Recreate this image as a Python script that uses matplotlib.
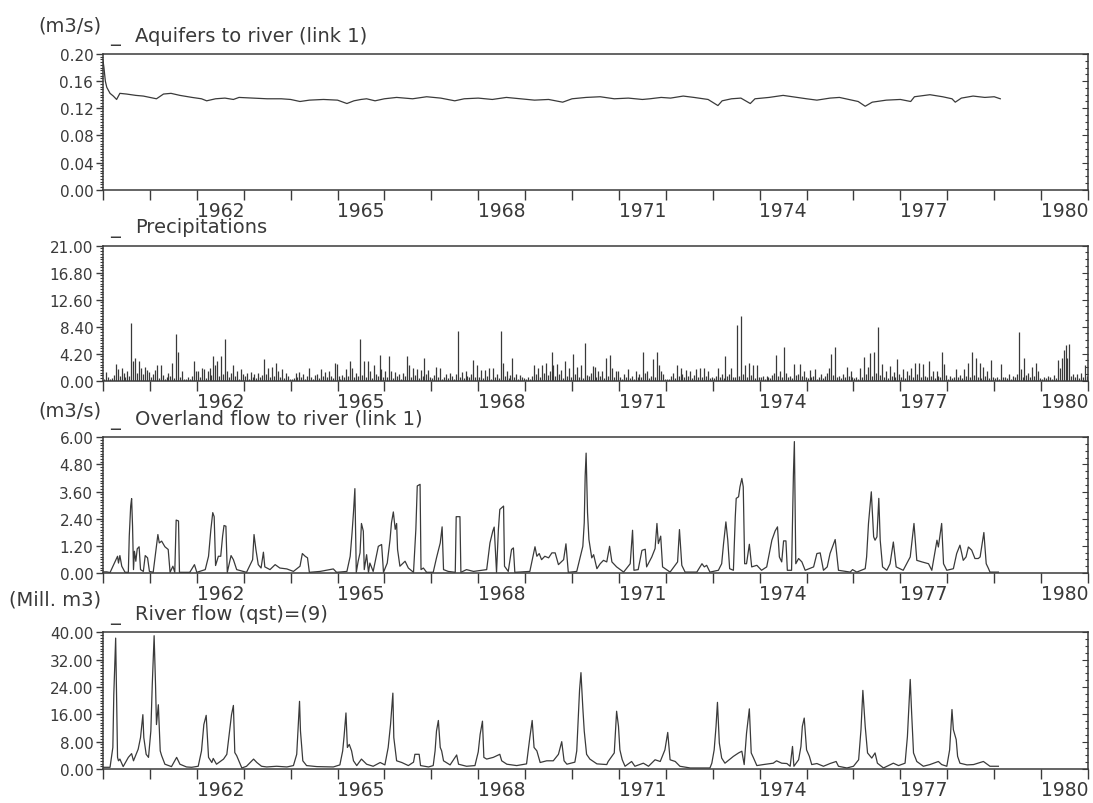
import matplotlib.pyplot as plt
from matplotlib.ticker import MultipleLocator, FixedLocator, NullFormatter, FormatStrFormatter

# ---- data ----
# Aquifers to river (link 1), m3/s
aq_t = [1960.00, 1960.02, 1960.05, 1960.08, 1960.15, 1960.22, 1960.29, 1960.36, 1960.50, 1960.70,
        1960.86, 1961.00, 1961.14, 1961.29, 1961.45, 1961.64, 1961.90, 1962.10, 1962.21, 1962.40,
        1962.60, 1962.78, 1962.90, 1963.20, 1963.50, 1963.80, 1964.00, 1964.20, 1964.40, 1964.70,
        1965.00, 1965.20, 1965.35, 1965.50, 1965.62, 1965.80, 1966.00, 1966.26, 1966.60, 1966.90,
        1967.20, 1967.50, 1967.70, 1968.00, 1968.30, 1968.60, 1968.90, 1969.20, 1969.50, 1969.80,
        1970.00, 1970.30, 1970.60, 1970.90, 1971.20, 1971.50, 1971.66, 1971.90, 1972.10, 1972.37,
        1972.60, 1972.90, 1973.11, 1973.20, 1973.40, 1973.60, 1973.80, 1973.90, 1974.20, 1974.50,
        1974.80, 1975.00, 1975.22, 1975.50, 1975.70, 1975.90, 1976.10, 1976.25, 1976.40, 1976.70,
        1977.00, 1977.22, 1977.30, 1977.63, 1977.90, 1978.10, 1978.17, 1978.30, 1978.55, 1978.80,
        1979.00, 1979.13]
aq_v = [0.190, 0.180, 0.160, 0.151, 0.142, 0.138, 0.133, 0.142, 0.141, 0.139,
        0.138, 0.136, 0.134, 0.141, 0.142, 0.139, 0.136, 0.134, 0.131, 0.134,
        0.135, 0.133, 0.136, 0.135, 0.134, 0.134, 0.133, 0.130, 0.132, 0.133,
        0.132, 0.127, 0.131, 0.133, 0.134, 0.131, 0.134, 0.136, 0.134, 0.137,
        0.135, 0.131, 0.134, 0.135, 0.133, 0.136, 0.134, 0.132, 0.133, 0.129,
        0.134, 0.136, 0.137, 0.134, 0.135, 0.133, 0.134, 0.136, 0.135, 0.138,
        0.136, 0.133, 0.124, 0.131, 0.134, 0.135, 0.127, 0.134, 0.136, 0.139,
        0.136, 0.134, 0.132, 0.135, 0.136, 0.133, 0.130, 0.123, 0.129, 0.132,
        0.133, 0.130, 0.137, 0.140, 0.137, 0.134, 0.129, 0.135, 0.138, 0.136,
        0.137, 0.134]

# Precipitations, 24 values per year, 1960-1980
precip_start = 1960
precip = [
    0.3, 1.4, 0.6, 0.2, 0.4, 0.9, 2.6, 1.8, 0.7, 2.0, 1.2, 0.5, 1.5, 0.8, 9.0, 3.1, 3.5, 1.2, 3.0, 1.9, 1.0, 2.2, 1.6, 1.3,
    0.5, 1.0, 1.6, 2.4, 0.4, 2.5, 0.9, 0.3, 0.6, 1.2, 0.8, 2.8, 0.4, 7.2, 4.4, 0.6, 1.5, 0.2, 0.3, 0.5, 0.2, 0.8, 3.0, 1.5,
    1.5, 0.6, 2.0, 1.8, 0.4, 1.5, 2.0, 0.9, 3.9, 2.5, 3.0, 0.7, 3.8, 1.1, 6.5, 1.5, 0.5, 1.2, 2.4, 0.8, 1.5, 0.3, 1.8, 1.0,
    0.8, 1.2, 0.3, 1.3, 0.5, 1.0, 0.4, 1.2, 0.6, 0.9, 3.4, 1.0, 2.0, 0.5, 2.2, 0.8, 2.8, 1.5, 0.6, 1.8, 0.4, 1.2, 0.8, 0.3,
    0.2, 0.4, 1.2, 0.6, 1.3, 0.5, 1.0, 0.3, 0.8, 2.0, 0.6, 0.3, 0.9, 1.1, 0.4, 1.8, 0.7, 1.3, 0.5, 1.5, 0.8, 0.4, 2.7, 2.6,
    0.8, 0.3, 0.9, 0.5, 1.8, 0.7, 3.0, 2.0, 0.6, 1.2, 0.8, 6.5, 0.9, 3.0, 0.5, 3.0, 1.5, 0.4, 2.4, 1.0, 0.7, 4.0, 1.8, 0.6,
    1.5, 0.6, 3.8, 1.5, 0.4, 1.3, 0.8, 1.0, 0.3, 1.2, 0.7, 3.9, 2.4, 0.5, 2.0, 0.9, 1.8, 0.4, 1.6, 0.8, 3.6, 1.1, 1.7, 0.6,
    0.4, 0.9, 2.2, 0.6, 2.0, 0.3, 0.5, 1.0, 0.4, 1.2, 0.7, 0.3, 1.1, 7.8, 0.6, 1.3, 0.4, 1.5, 0.8, 0.5, 1.0, 3.2, 0.6, 2.4,
    0.5, 1.7, 0.4, 1.7, 0.8, 2.0, 0.3, 2.0, 0.6, 1.0, 0.4, 7.8, 2.8, 0.7, 1.5, 0.4, 0.9, 3.6, 0.5, 1.0, 0.3, 0.9, 0.6, 0.4,
    0.3, 0.5, 0.2, 0.8, 2.4, 1.0, 2.0, 0.6, 2.5, 1.2, 2.8, 0.9, 1.5, 4.4, 2.5, 0.8, 2.6, 1.0, 1.6, 0.4, 3.1, 0.7, 1.9, 0.5,
    4.1, 1.0, 2.2, 0.6, 2.5, 0.4, 5.9, 0.9, 0.8, 1.2, 2.3, 2.2, 0.5, 1.5, 0.8, 1.5, 0.4, 3.5, 0.7, 4.0, 2.0, 0.5, 1.5, 1.5,
    0.6, 0.3, 1.0, 0.5, 1.8, 0.4, 0.7, 0.3, 1.5, 0.6, 1.0, 0.5, 4.4, 1.2, 1.5, 0.4, 0.8, 3.3, 0.5, 4.4, 2.5, 1.5, 1.0, 0.2,
    0.2, 0.3, 0.8, 1.2, 0.4, 2.5, 0.7, 2.0, 1.0, 0.5, 1.7, 0.8, 1.5, 0.4, 0.9, 1.8, 0.6, 2.0, 0.5, 2.0, 0.8, 1.5, 0.4, 0.5,
    0.4, 0.8, 1.9, 0.5, 1.0, 0.4, 3.8, 0.7, 1.0, 1.9, 0.5, 0.6, 8.7, 0.8, 10.0, 1.0, 2.5, 0.6, 2.7, 0.9, 2.5, 0.4, 2.4, 0.6,
    0.5, 0.8, 0.3, 0.8, 0.6, 0.4, 0.9, 1.2, 4.0, 0.7, 1.5, 0.6, 5.3, 1.2, 0.5, 0.8, 0.4, 2.6, 0.9, 1.0, 2.6, 0.7, 1.5, 0.5,
    0.4, 1.7, 0.5, 0.8, 1.8, 0.3, 0.6, 1.0, 0.4, 0.8, 1.2, 2.0, 4.2, 0.9, 5.2, 0.6, 0.8, 0.4, 1.0, 0.5, 2.2, 0.7, 1.5, 0.5,
    0.4, 0.5, 0.3, 2.0, 0.6, 3.7, 1.0, 2.2, 4.3, 0.8, 4.5, 1.2, 8.4, 0.9, 2.6, 0.5, 1.5, 0.4, 2.3, 0.7, 1.3, 0.5, 3.3, 1.0,
    0.6, 1.8, 0.4, 1.5, 0.9, 2.0, 0.5, 2.7, 1.0, 2.8, 0.6, 2.6, 0.8, 0.5, 3.0, 0.7, 1.5, 0.4, 1.5, 0.8, 0.5, 4.5, 2.6, 0.9,
    0.3, 0.8, 0.4, 0.6, 1.8, 0.5, 0.9, 0.4, 1.8, 0.7, 2.8, 0.5, 4.4, 0.9, 3.6, 0.6, 2.8, 0.4, 2.2, 0.8, 1.5, 0.4, 3.2, 0.6,
    0.4, 0.6, 0.3, 2.6, 0.5, 0.6, 0.4, 1.0, 0.3, 0.8, 0.5, 1.0, 7.6, 1.8, 0.6, 3.5, 0.9, 1.2, 0.5, 2.1, 0.7, 2.8, 1.5, 0.4,
    0.3, 0.6, 0.4, 0.8, 0.5, 0.3, 0.9, 0.4, 3.2, 2.0, 3.5, 4.8, 5.6, 3.5, 5.7, 0.8, 1.0, 0.5, 1.0, 0.4, 1.2, 0.6, 2.5, 0.8,
]

# Overland flow to river (link 1), m3/s
ov_t = [1960.00, 1960.08, 1960.15, 1960.26, 1960.31, 1960.33, 1960.36, 1960.40, 1960.47, 1960.54,
        1960.56, 1960.59, 1960.61, 1960.63, 1960.65, 1960.67, 1960.70, 1960.73, 1960.77, 1960.80,
        1960.86, 1960.90, 1960.95, 1960.99, 1961.07, 1961.13, 1961.17, 1961.20, 1961.25, 1961.32,
        1961.39, 1961.43, 1961.49, 1961.53, 1961.56, 1961.61, 1961.63, 1961.85, 1961.95, 1962.00,
        1962.18, 1962.25, 1962.30, 1962.34, 1962.37, 1962.40, 1962.46, 1962.51, 1962.55, 1962.58,
        1962.62, 1962.65, 1962.73, 1962.78, 1962.85, 1963.06, 1963.19, 1963.22, 1963.26, 1963.31,
        1963.37, 1963.42, 1963.45, 1963.56, 1963.67, 1963.77, 1963.92, 1964.06, 1964.20, 1964.25,
        1964.31, 1964.36, 1964.40, 1964.63, 1964.91, 1964.98, 1965.20, 1965.27, 1965.31, 1965.34,
        1965.37, 1965.40, 1965.44, 1965.48, 1965.51, 1965.55, 1965.57, 1965.62, 1965.66, 1965.69,
        1965.76, 1965.87, 1965.94, 1965.98, 1966.06, 1966.12, 1966.15, 1966.19, 1966.23, 1966.26,
        1966.28, 1966.33, 1966.44, 1966.51, 1966.62, 1966.67, 1966.70, 1966.76, 1966.78, 1966.83,
        1966.90, 1967.04, 1967.11, 1967.19, 1967.23, 1967.26, 1967.36, 1967.51, 1967.53, 1967.61,
        1967.63, 1967.75, 1967.90, 1968.18, 1968.25, 1968.31, 1968.34, 1968.39, 1968.43, 1968.46,
        1968.54, 1968.56, 1968.64, 1968.71, 1968.75, 1968.78, 1969.10, 1969.21, 1969.25, 1969.30,
        1969.35, 1969.42, 1969.50, 1969.57, 1969.64, 1969.71, 1969.82, 1969.87, 1969.92, 1970.10,
        1970.23, 1970.26, 1970.28, 1970.30, 1970.33, 1970.36, 1970.42, 1970.46, 1970.53, 1970.60,
        1970.67, 1970.74, 1970.80, 1970.85, 1970.95, 1971.10, 1971.24, 1971.29, 1971.32, 1971.41,
        1971.49, 1971.56, 1971.59, 1971.70, 1971.77, 1971.81, 1971.84, 1971.89, 1971.93, 1972.09,
        1972.25, 1972.29, 1972.34, 1972.41, 1972.66, 1972.77, 1972.82, 1972.87, 1972.94, 1973.12,
        1973.19, 1973.23, 1973.28, 1973.32, 1973.36, 1973.44, 1973.48, 1973.50, 1973.55, 1973.58,
        1973.62, 1973.65, 1973.68, 1973.72, 1973.78, 1973.83, 1973.94, 1974.04, 1974.15, 1974.26,
        1974.33, 1974.38, 1974.42, 1974.47, 1974.51, 1974.56, 1974.59, 1974.68, 1974.72, 1974.74,
        1974.77, 1974.83, 1974.90, 1974.97, 1975.15, 1975.22, 1975.29, 1975.36, 1975.44, 1975.50,
        1975.61, 1975.68, 1975.93, 1975.98, 1976.07, 1976.25, 1976.28, 1976.32, 1976.38, 1976.43,
        1976.46, 1976.50, 1976.54, 1976.57, 1976.62, 1976.71, 1976.78, 1976.85, 1976.91, 1977.06,
        1977.21, 1977.29, 1977.35, 1977.46, 1977.60, 1977.67, 1977.78, 1977.81, 1977.88, 1977.92,
        1977.99, 1978.13, 1978.20, 1978.27, 1978.34, 1978.40, 1978.45, 1978.52, 1978.59, 1978.66,
        1978.70, 1978.78, 1978.83, 1978.88, 1978.91, 1979.09]
ov_v = [0.05, 0.05, 0.02, 0.52, 0.74, 0.44, 0.77, 0.30, 0.03, 0.03,
        1.63, 2.96, 3.29, 2.07, 0.15, 0.96, 0.52, 1.07, 1.16, 0.15,
        0.07, 0.77, 0.67, 0.07, 0.03, 1.04, 1.70, 1.33, 1.41, 1.16,
        1.04, 0.03, 0.30, 0.03, 2.34, 2.30, 0.03, 0.03, 0.37, 0.03,
        0.15, 0.74, 1.93, 2.67, 2.49, 0.33, 0.74, 0.74, 1.63, 2.10,
        2.07, 0.03, 0.77, 0.59, 0.15, 0.03, 0.59, 1.70, 1.04, 0.37,
        0.22, 0.92, 0.27, 0.15, 0.37, 0.22, 0.18, 0.07, 0.30, 0.86,
        0.74, 0.67, 0.03, 0.07, 0.18, 0.03, 0.07, 0.74, 1.78, 2.67,
        3.73, 0.03, 0.52, 0.89, 2.19, 1.85, 0.15, 0.81, 0.03, 0.44,
        0.07, 1.18, 1.26, 0.03, 0.44, 1.48, 2.22, 2.70, 1.93, 2.19,
        1.04, 0.30, 0.52, 0.22, 0.03, 1.93, 3.85, 3.92, 0.15, 0.22,
        0.03, 0.03, 0.67, 1.33, 2.04, 0.15, 0.07, 0.03, 2.49, 2.49,
        0.03, 0.15, 0.07, 0.15, 1.33, 1.85, 2.03, 0.03, 1.93, 2.81,
        2.96, 0.30, 0.07, 1.04, 1.11, 0.03, 0.07, 1.16, 0.74, 0.86,
        0.59, 0.74, 0.67, 0.89, 0.89, 0.37, 0.59, 1.29, 0.03, 0.07,
        1.18, 2.22, 4.30, 5.30, 2.67, 1.48, 0.67, 0.81, 0.19, 0.41,
        0.56, 0.49, 1.18, 0.49, 0.27, 0.04, 0.41, 1.89, 0.12, 0.15,
        1.00, 1.05, 0.27, 0.71, 1.08, 2.19, 1.30, 1.63, 0.27, 0.04,
        0.49, 1.92, 0.34, 0.04, 0.04, 0.41, 0.27, 0.34, 0.04, 0.12,
        0.41, 1.30, 2.26, 1.45, 0.19, 0.12, 2.48, 3.30, 3.37, 3.81,
        4.18, 3.81, 0.41, 0.41, 1.27, 0.27, 0.34, 0.12, 0.27, 1.45,
        1.86, 2.04, 0.71, 0.49, 1.42, 1.42, 0.12, 0.12, 4.40, 5.81,
        0.41, 0.64, 0.49, 0.12, 0.27, 0.86, 0.89, 0.12, 0.27, 0.86,
        1.48, 0.12, 0.04, 0.15, 0.04, 0.19, 0.71, 2.19, 3.59, 1.60,
        1.45, 1.60, 3.30, 1.45, 0.27, 0.12, 0.41, 1.37, 0.27, 0.12,
        0.71, 2.19, 0.56, 0.49, 0.41, 0.12, 1.45, 1.15, 2.19, 0.41,
        0.12, 0.19, 0.86, 1.23, 0.56, 0.71, 1.15, 1.01, 0.64, 0.64,
        0.71, 1.79, 0.41, 0.19, 0.04, 0.04]

# River flow (qst)=(9), Mill. m3
rf_t = [1960.00, 1960.15, 1960.21, 1960.23, 1960.27, 1960.31, 1960.33, 1960.36, 1960.43, 1960.54,
        1960.61, 1960.65, 1960.75, 1960.80, 1960.85, 1960.87, 1960.92, 1960.97, 1961.02, 1961.05,
        1961.09, 1961.12, 1961.14, 1961.18, 1961.22, 1961.25, 1961.32, 1961.46, 1961.57, 1961.64,
        1961.78, 1961.89, 1962.03, 1962.10, 1962.15, 1962.20, 1962.25, 1962.32, 1962.35, 1962.42,
        1962.57, 1962.64, 1962.69, 1962.74, 1962.78, 1962.81, 1962.85, 1962.96, 1963.06, 1963.21,
        1963.28, 1963.38, 1963.49, 1963.70, 1963.92, 1964.06, 1964.13, 1964.19, 1964.21, 1964.26,
        1964.34, 1964.56, 1964.91, 1965.05, 1965.11, 1965.14, 1965.18, 1965.21, 1965.25, 1965.30,
        1965.34, 1965.41, 1965.51, 1965.62, 1965.76, 1965.91, 1966.01, 1966.08, 1966.13, 1966.18,
        1966.20, 1966.26, 1966.37, 1966.51, 1966.62, 1966.65, 1966.74, 1966.77, 1966.94, 1967.04,
        1967.08, 1967.11, 1967.15, 1967.19, 1967.22, 1967.26, 1967.40, 1967.54, 1967.58, 1967.75,
        1967.93, 1968.00, 1968.04, 1968.09, 1968.12, 1968.18, 1968.32, 1968.46, 1968.50, 1968.61,
        1968.82, 1969.03, 1969.10, 1969.15, 1969.19, 1969.25, 1969.32, 1969.46, 1969.60, 1969.71,
        1969.78, 1969.83, 1969.89, 1970.06, 1970.10, 1970.16, 1970.19, 1970.23, 1970.26, 1970.31,
        1970.38, 1970.53, 1970.74, 1970.77, 1970.90, 1970.95, 1970.99, 1971.02, 1971.07, 1971.13,
        1971.27, 1971.34, 1971.52, 1971.63, 1971.77, 1971.88, 1971.98, 1972.04, 1972.09, 1972.20,
        1972.30, 1972.52, 1972.80, 1972.94, 1972.98, 1973.03, 1973.07, 1973.10, 1973.14, 1973.19,
        1973.26, 1973.44, 1973.55, 1973.62, 1973.67, 1973.72, 1973.78, 1973.82, 1973.87, 1973.94,
        1974.08, 1974.29, 1974.36, 1974.47, 1974.58, 1974.65, 1974.70, 1974.73, 1974.83, 1974.88,
        1974.91, 1974.95, 1975.00, 1975.06, 1975.11, 1975.22, 1975.36, 1975.50, 1975.63, 1975.68,
        1975.86, 1976.00, 1976.11, 1976.16, 1976.20, 1976.25, 1976.30, 1976.39, 1976.46, 1976.51,
        1976.64, 1976.85, 1976.96, 1977.10, 1977.15, 1977.21, 1977.24, 1977.28, 1977.35, 1977.49,
        1977.63, 1977.81, 1977.88, 1977.99, 1978.05, 1978.10, 1978.13, 1978.19, 1978.22, 1978.27,
        1978.42, 1978.56, 1978.77, 1978.91, 1979.09]
rf_v = [0.5, 0.5, 6.3, 21.7, 38.3, 3.4, 2.4, 2.9, 0.7, 3.4,
        4.5, 2.4, 5.8, 9.2, 15.9, 9.2, 4.3, 3.4, 11.1, 24.6,
        39.0, 24.6, 13.0, 18.8, 5.3, 3.9, 1.4, 0.7, 3.4, 1.4,
        0.6, 0.5, 0.8, 5.3, 13.0, 15.7, 3.4, 1.9, 3.1, 1.4,
        2.9, 4.3, 10.1, 15.9, 18.6, 4.8, 3.9, 0.3, 0.8, 2.9,
        1.9, 0.8, 0.6, 0.8, 0.6, 1.0, 4.3, 19.8, 11.1, 2.4,
        1.0, 0.7, 0.6, 1.2, 5.3, 9.6, 16.4, 6.3, 7.2, 5.3,
        2.4, 1.0, 2.9, 1.4, 0.8, 1.9, 1.2, 6.3, 13.0, 22.2,
        9.2, 2.4, 1.9, 1.0, 2.0, 4.3, 4.3, 1.0, 0.6, 1.0,
        5.3, 11.1, 14.2, 6.3, 5.3, 2.4, 1.2, 4.1, 1.4, 0.8,
        1.0, 5.0, 10.1, 14.0, 3.4, 2.9, 3.4, 4.3, 2.4, 1.4,
        1.0, 1.5, 9.2, 14.2, 6.3, 5.3, 1.9, 2.4, 2.4, 4.3,
        8.0, 2.4, 1.4, 2.0, 5.3, 23.1, 28.2, 17.8, 11.1, 4.3,
        2.9, 1.5, 1.3, 2.2, 4.7, 16.9, 12.5, 5.6, 2.7, 0.8,
        2.2, 0.8, 1.7, 0.8, 2.7, 2.2, 5.6, 10.7, 2.7, 2.2,
        0.8, 0.3, 0.3, 0.3, 1.7, 5.6, 12.5, 19.5, 7.6, 3.2,
        1.7, 3.7, 4.7, 5.2, 1.3, 10.5, 17.6, 4.7, 3.2, 1.0,
        1.3, 1.7, 2.4, 1.7, 1.6, 0.8, 6.6, 0.8, 2.7, 6.6,
        12.5, 14.9, 5.6, 3.7, 1.3, 1.6, 0.8, 1.6, 2.2, 0.8,
        0.3, 0.8, 2.7, 11.5, 23.0, 12.5, 4.7, 3.2, 4.7, 1.7,
        0.3, 1.7, 1.0, 1.7, 9.5, 26.2, 16.4, 4.7, 2.2, 0.8,
        1.3, 2.2, 1.3, 0.8, 5.6, 17.4, 11.5, 8.6, 3.7, 1.7,
        1.2, 1.3, 2.2, 0.8, 0.8]

year_labels = [1962, 1965, 1968, 1971, 1974, 1977, 1980]

# ---- layout (pixel boxes of the four panels) ----
W, H = 1093, 804
ink = '#3a3a3a'
fig = plt.figure(figsize=(W / 100, H / 100), dpi=100)
plt.rcParams['font.family'] = 'DejaVu Sans'


def add_panel(top, bottom):
    left, right = 103, 1088
    return fig.add_axes([left / W, 1 - bottom / H, (right - left) / W, (bottom - top) / H])


def style(ax, ymax, ystep, fmt):
    ax.set_xlim(1960, 1981)
    ax.set_ylim(0, ymax)
    for sp in ax.spines.values():
        sp.set_color(ink)
        sp.set_linewidth(1.1)
    ax.yaxis.set_major_locator(MultipleLocator(ystep))
    ax.yaxis.set_minor_locator(MultipleLocator(ystep / 10))
    ax.yaxis.set_major_formatter(FormatStrFormatter(fmt))
    ax.tick_params(axis='y', which='major', direction='out', length=5, width=1,
                   color=ink, labelcolor=ink, labelsize=11, pad=2)
    ax.tick_params(axis='y', which='minor', direction='out', length=2.5, width=0.8, color=ink)
    # year ticks unlabeled, labels centred in the year
    ax.xaxis.set_major_locator(MultipleLocator(1))
    ax.xaxis.set_major_formatter(NullFormatter())
    ax.xaxis.set_minor_locator(FixedLocator([y + 0.5 for y in year_labels]))
    ax.set_xticklabels([str(y) for y in year_labels], minor=True)
    ax.tick_params(axis='x', which='major', direction='out', length=7, width=1, color=ink)
    ax.tick_params(axis='x', which='minor', length=0, pad=8, labelsize=13.5, labelcolor=ink)
    # right side: small inward ticks
    rt = ax.twinx()
    rt.set_ylim(0, ymax)
    rt.yaxis.set_major_locator(MultipleLocator(ystep))
    rt.yaxis.set_minor_locator(MultipleLocator(ystep / 4))
    rt.tick_params(axis='y', which='both', direction='in', labelright=False, color=ink, width=0.8)
    rt.tick_params(axis='y', which='major', length=4)
    rt.tick_params(axis='y', which='minor', length=2.5)
    for sp in rt.spines.values():
        sp.set_visible(False)


def label(top, title, unit=None, unit_y=None):
    base = top - 13.5
    fig.text(110 / W, 1 - base / H, '_', color=ink, fontsize=14, va='baseline')
    fig.text(135 / W, 1 - base / H, title, color=ink, fontsize=14, va='baseline')
    if unit:
        fig.text(101 / W, 1 - unit_y / H, unit, color=ink, fontsize=14, ha='right', va='center')


tops = [55, 246.7, 438.3, 633.3]
bottoms = [190.7, 381.7, 574, 770]

ax1 = add_panel(tops[0], bottoms[0])
ax1.plot(aq_t, aq_v, color=ink, lw=0.9)
style(ax1, 0.20, 0.04, '%.2f')
label(tops[0], 'Aquifers to river (link 1)', '(m3/s)', 26.5)

ax2 = add_panel(tops[1], bottoms[1])
px = [precip_start + (i + 0.5) / 24 for i in range(len(precip))]
ax2.vlines(px, 0, precip, color=ink, lw=0.9)
style(ax2, 21.0, 4.2, '%.2f')
label(tops[1], 'Precipitations')

ax3 = add_panel(tops[2], bottoms[2])
ax3.plot(ov_t, ov_v, color=ink, lw=0.9)
style(ax3, 6.0, 1.2, '%.2f')
label(tops[2], 'Overland flow to river (link 1)', '(m3/s)', 411)

ax4 = add_panel(tops[3], bottoms[3])
ax4.plot(rf_t, rf_v, color=ink, lw=0.9)
style(ax4, 40.0, 8.0, '%.2f')
label(tops[3], 'River flow (qst)=(9)', '(Mill. m3)', 600)

fig.savefig('out.png', dpi=100, facecolor='white')
